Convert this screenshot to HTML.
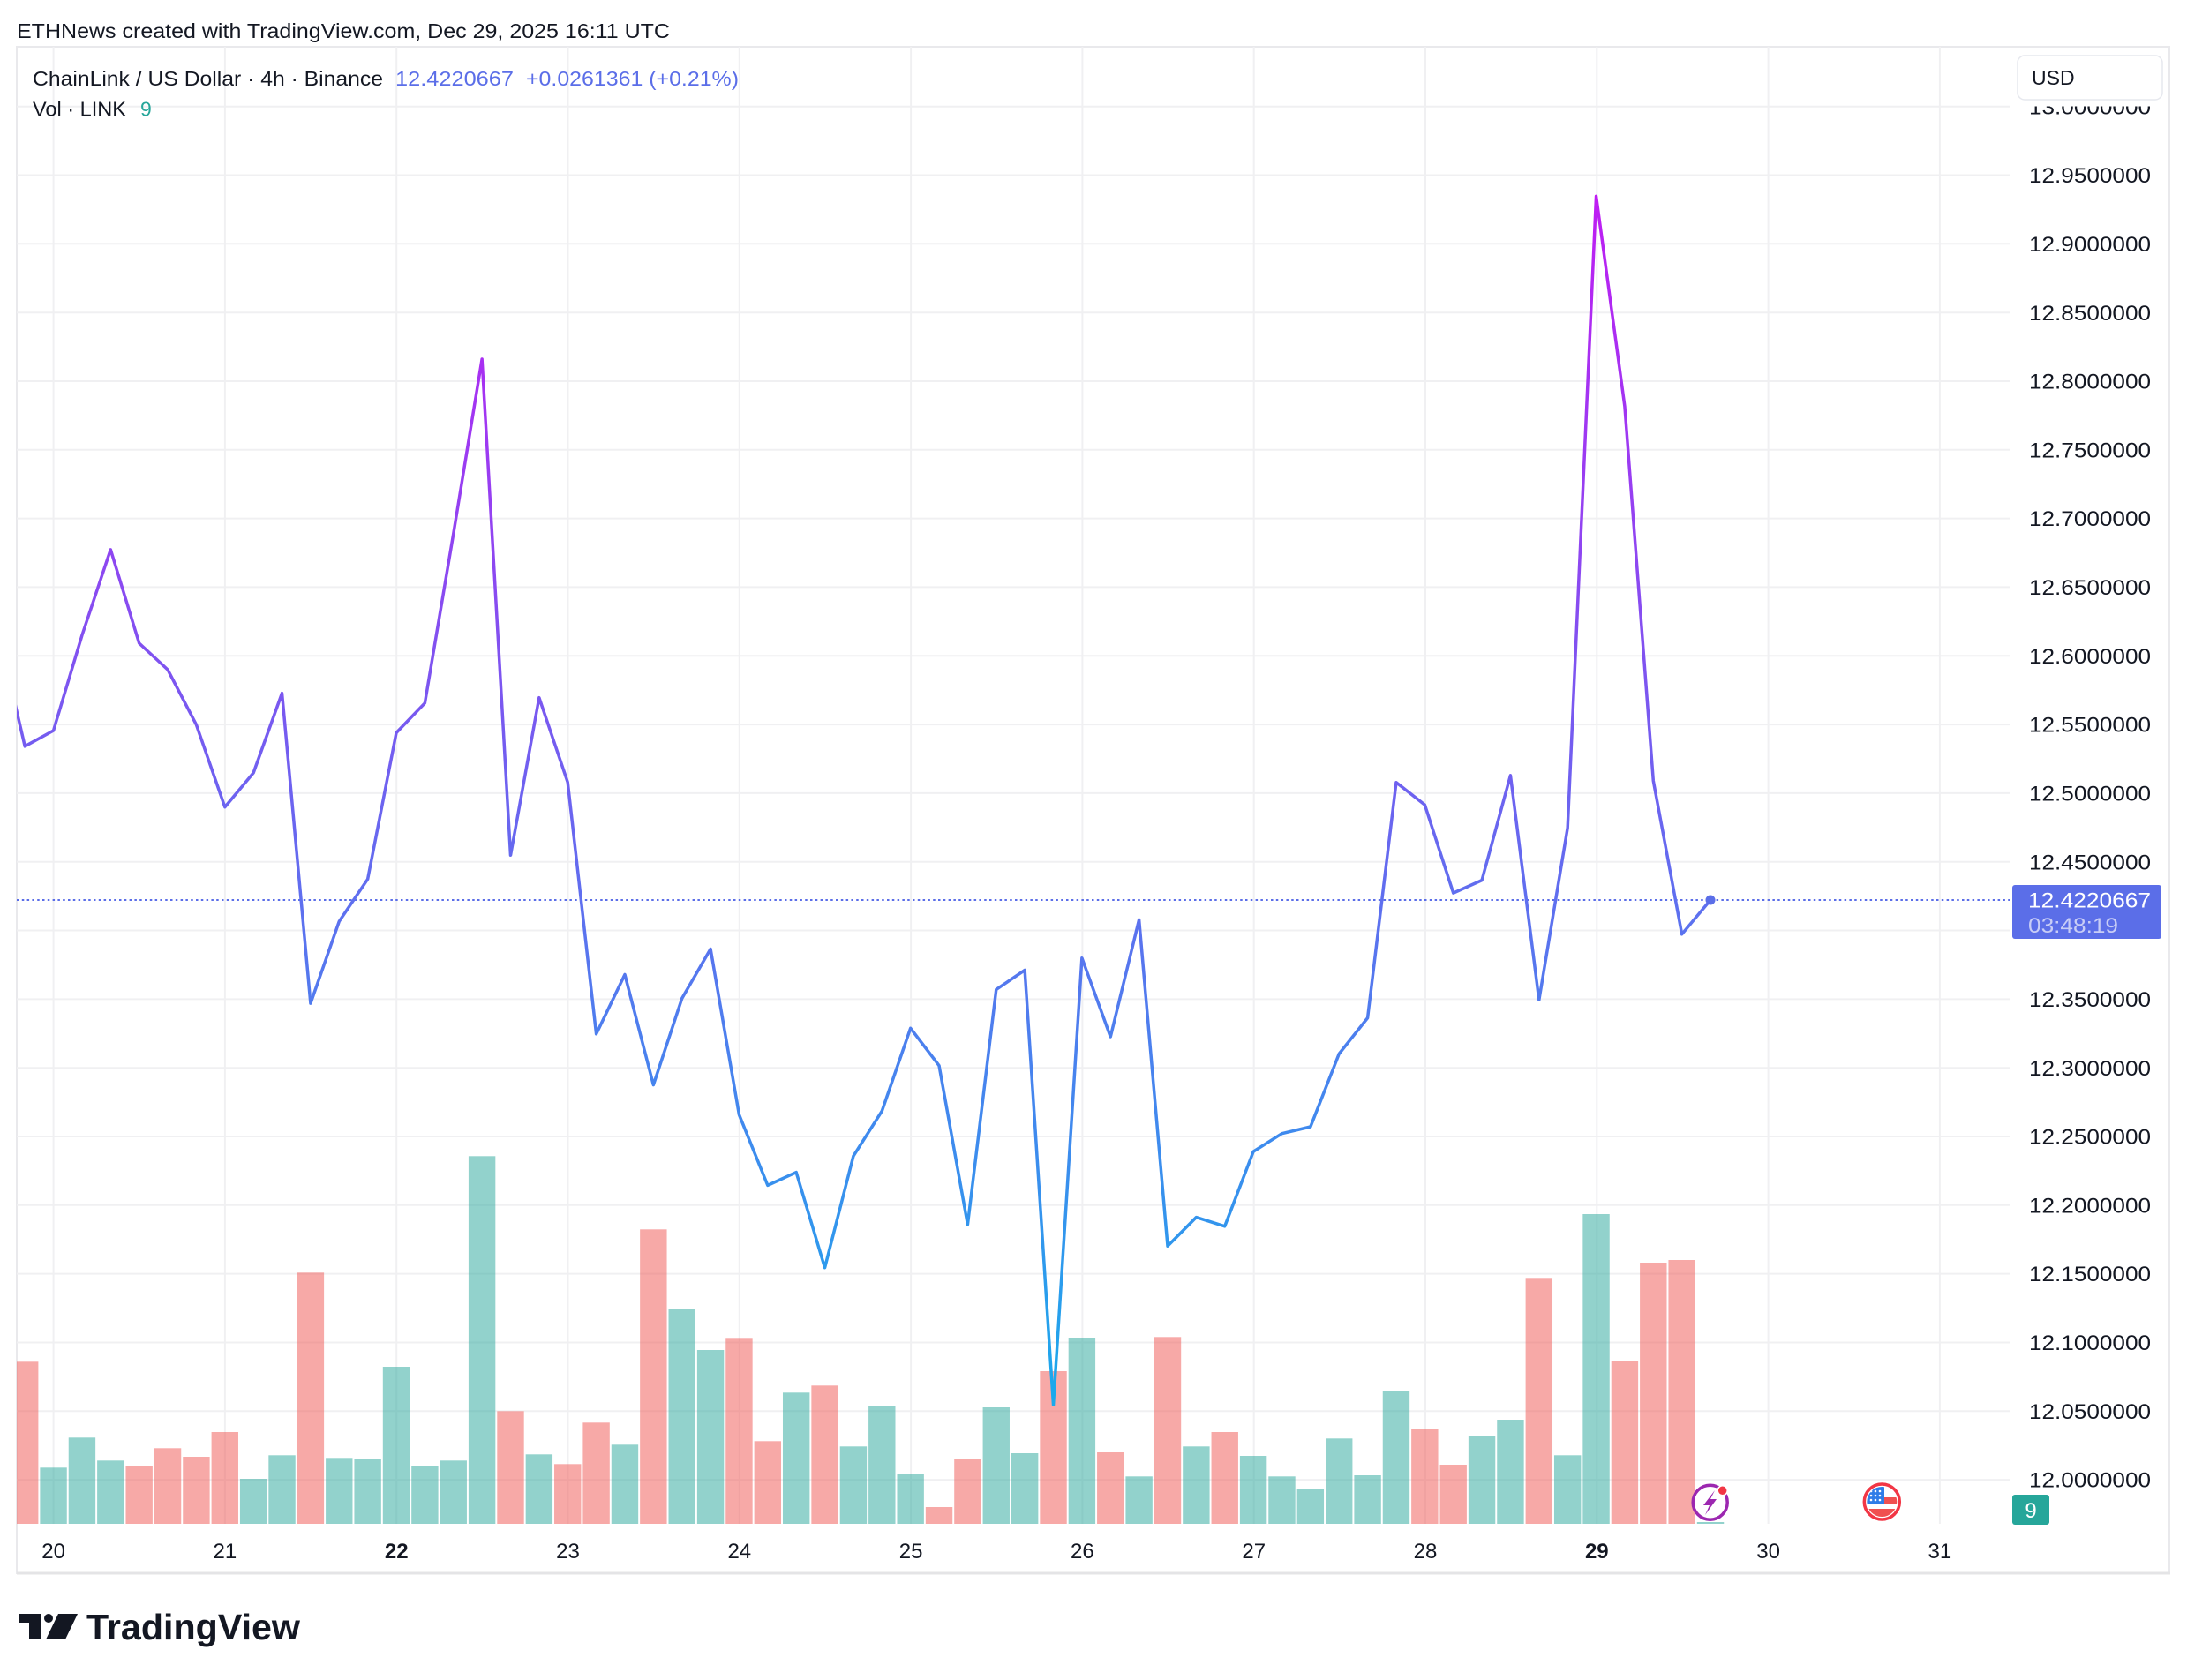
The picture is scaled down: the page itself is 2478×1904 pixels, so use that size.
<!DOCTYPE html>
<html><head><meta charset="utf-8"><style>
html,body{margin:0;padding:0;background:#fff;}
svg{display:block;}
text{font-family:"Liberation Sans",Arial,sans-serif;}
</style></head><body>
<svg width="2478" height="1904" viewBox="0 0 2478 1904" xmlns="http://www.w3.org/2000/svg">
<rect width="2478" height="1904" fill="#fff"/>
<defs>
<clipPath id="plot"><rect x="19" y="53" width="2259" height="1674"/></clipPath>
<linearGradient id="lg" gradientUnits="userSpaceOnUse" x1="0" y1="222" x2="0" y2="1592">
<stop offset="0" stop-color="#bf1cf3"/><stop offset="1" stop-color="#1aaaec"/>
</linearGradient>
<clipPath id="flagc"><circle cx="2132.3" cy="1702" r="17"/></clipPath>
</defs>

<!-- title -->
<text x="19" y="43" font-size="23" fill="#131722" textLength="740" lengthAdjust="spacingAndGlyphs">ETHNews created with TradingView.com, Dec 29, 2025 16:11 UTC</text>

<!-- frame -->
<rect x="19" y="53" width="2439" height="1730" fill="none" stroke="#e9e9ec" stroke-width="2"/>
<line x1="19" y1="1783" x2="2459" y2="1783" stroke="#e4e4e6" stroke-width="3"/>

<!-- grid -->
<g stroke="#f0f0f2" stroke-width="2">
<line x1="19" y1="120.7" x2="2278" y2="120.7"/>
<line x1="19" y1="198.5" x2="2278" y2="198.5"/>
<line x1="19" y1="276.3" x2="2278" y2="276.3"/>
<line x1="19" y1="354.2" x2="2278" y2="354.2"/>
<line x1="19" y1="432.0" x2="2278" y2="432.0"/>
<line x1="19" y1="509.8" x2="2278" y2="509.8"/>
<line x1="19" y1="587.6" x2="2278" y2="587.6"/>
<line x1="19" y1="665.4" x2="2278" y2="665.4"/>
<line x1="19" y1="743.3" x2="2278" y2="743.3"/>
<line x1="19" y1="821.1" x2="2278" y2="821.1"/>
<line x1="19" y1="898.9" x2="2278" y2="898.9"/>
<line x1="19" y1="976.7" x2="2278" y2="976.7"/>
<line x1="19" y1="1054.5" x2="2278" y2="1054.5"/>
<line x1="19" y1="1132.4" x2="2278" y2="1132.4"/>
<line x1="19" y1="1210.2" x2="2278" y2="1210.2"/>
<line x1="19" y1="1288.0" x2="2278" y2="1288.0"/>
<line x1="19" y1="1365.8" x2="2278" y2="1365.8"/>
<line x1="19" y1="1443.6" x2="2278" y2="1443.6"/>
<line x1="19" y1="1521.5" x2="2278" y2="1521.5"/>
<line x1="19" y1="1599.3" x2="2278" y2="1599.3"/>
<line x1="19" y1="1677.1" x2="2278" y2="1677.1"/>
<line x1="60.6" y1="53" x2="60.6" y2="1727"/>
<line x1="254.9" y1="53" x2="254.9" y2="1727"/>
<line x1="449.2" y1="53" x2="449.2" y2="1727"/>
<line x1="643.5" y1="53" x2="643.5" y2="1727"/>
<line x1="837.8" y1="53" x2="837.8" y2="1727"/>
<line x1="1032.1" y1="53" x2="1032.1" y2="1727"/>
<line x1="1226.4" y1="53" x2="1226.4" y2="1727"/>
<line x1="1420.7" y1="53" x2="1420.7" y2="1727"/>
<line x1="1615" y1="53" x2="1615" y2="1727"/>
<line x1="1809.3" y1="53" x2="1809.3" y2="1727"/>
<line x1="2003.6" y1="53" x2="2003.6" y2="1727"/>
<line x1="2197.9" y1="53" x2="2197.9" y2="1727"/>
</g>

<g clip-path="url(#plot)">
<!-- volume red -->
<g fill="rgba(239,83,80,0.5)">
<rect x="13" y="1543.3" width="30.4" height="183.7"/>
<rect x="142.48" y="1662" width="30.4" height="65"/>
<rect x="174.85" y="1641.3" width="30.4" height="85.7"/>
<rect x="207.22" y="1651" width="30.4" height="76"/>
<rect x="239.59" y="1623" width="30.4" height="104"/>
<rect x="336.7" y="1442.3" width="30.4" height="284.7"/>
<rect x="563.29" y="1599.3" width="30.4" height="127.7"/>
<rect x="628.03" y="1659.3" width="30.4" height="67.7"/>
<rect x="660.4" y="1612.3" width="30.4" height="114.7"/>
<rect x="725.14" y="1393.3" width="30.4" height="333.7"/>
<rect x="822.25" y="1516.3" width="30.4" height="210.7"/>
<rect x="854.62" y="1633.3" width="30.4" height="93.7"/>
<rect x="919.36" y="1570.3" width="30.4" height="156.7"/>
<rect x="1048.84" y="1708" width="30.4" height="19"/>
<rect x="1081.21" y="1653.3" width="30.4" height="73.7"/>
<rect x="1178.32" y="1554" width="30.4" height="173"/>
<rect x="1243.06" y="1646" width="30.4" height="81"/>
<rect x="1307.8" y="1515.3" width="30.4" height="211.7"/>
<rect x="1372.54" y="1623" width="30.4" height="104"/>
<rect x="1599.13" y="1620" width="30.4" height="107"/>
<rect x="1631.5" y="1660" width="30.4" height="67"/>
<rect x="1728.61" y="1448.3" width="30.4" height="278.7"/>
<rect x="1825.72" y="1542.3" width="30.4" height="184.7"/>
<rect x="1858.09" y="1431" width="30.4" height="296"/>
<rect x="1890.46" y="1428" width="30.4" height="299"/>
</g>
<!-- volume green -->
<g fill="rgba(38,166,154,0.5)">
<rect x="45.37" y="1663.3" width="30.4" height="63.7"/>
<rect x="77.74" y="1629.3" width="30.4" height="97.7"/>
<rect x="110.11" y="1655.3" width="30.4" height="71.7"/>
<rect x="271.96" y="1676" width="30.4" height="51"/>
<rect x="304.33" y="1649.3" width="30.4" height="77.7"/>
<rect x="369.07" y="1652.3" width="30.4" height="74.7"/>
<rect x="401.44" y="1653.3" width="30.4" height="73.7"/>
<rect x="433.81" y="1549" width="30.4" height="178"/>
<rect x="466.18" y="1662" width="30.4" height="65"/>
<rect x="498.55" y="1655.3" width="30.4" height="71.7"/>
<rect x="530.92" y="1310.3" width="30.4" height="416.7"/>
<rect x="595.66" y="1648.3" width="30.4" height="78.7"/>
<rect x="692.77" y="1637.3" width="30.4" height="89.7"/>
<rect x="757.51" y="1483.3" width="30.4" height="243.7"/>
<rect x="789.88" y="1530" width="30.4" height="197"/>
<rect x="886.99" y="1578.3" width="30.4" height="148.7"/>
<rect x="951.73" y="1639.3" width="30.4" height="87.7"/>
<rect x="984.1" y="1593.3" width="30.4" height="133.7"/>
<rect x="1016.47" y="1670" width="30.4" height="57"/>
<rect x="1113.58" y="1595" width="30.4" height="132"/>
<rect x="1145.95" y="1647" width="30.4" height="80"/>
<rect x="1210.69" y="1516" width="30.4" height="211"/>
<rect x="1275.43" y="1673.3" width="30.4" height="53.7"/>
<rect x="1340.17" y="1639.3" width="30.4" height="87.7"/>
<rect x="1404.91" y="1650" width="30.4" height="77"/>
<rect x="1437.28" y="1673.3" width="30.4" height="53.7"/>
<rect x="1469.65" y="1687.3" width="30.4" height="39.7"/>
<rect x="1502.02" y="1630.3" width="30.4" height="96.7"/>
<rect x="1534.39" y="1672" width="30.4" height="55"/>
<rect x="1566.76" y="1576" width="30.4" height="151"/>
<rect x="1663.87" y="1627.3" width="30.4" height="99.7"/>
<rect x="1696.24" y="1609" width="30.4" height="118"/>
<rect x="1760.98" y="1649.3" width="30.4" height="77.7"/>
<rect x="1793.35" y="1376" width="30.4" height="351"/>
<rect x="1922.83" y="1725" width="30.4" height="2"/>
</g>

<!-- last price dotted line -->
<line x1="19" y1="1020" x2="2278" y2="1020" stroke="#5b6ee8" stroke-width="2" stroke-dasharray="2.5 3.3"/>

<!-- price line -->
<polyline fill="none" stroke="url(#lg)" stroke-width="3.5" stroke-linejoin="round" stroke-linecap="round" points="-4.2,706 28.2,845.8 60.57,828 92.94,720 125.31,622.9 157.68,729 190.05,759 222.42,821.3 254.79,914.7 287.16,875.9 319.53,785.6 351.9,1137.1 384.27,1044.3 416.64,996.3 449.01,830.5 481.38,796.8 513.75,605 546.12,407 578.49,969.3 610.86,790.7 643.23,886.6 675.6,1171.8 707.97,1104.5 740.34,1229.6 772.71,1131.5 805.08,1075.5 837.45,1263.3 869.82,1343.4 902.19,1328.6 934.56,1436.7 966.93,1310.2 999.3,1259.2 1031.67,1165.3 1064.04,1207.7 1096.41,1387.8 1128.78,1121.4 1161.15,1099.5 1193.52,1592.3 1225.89,1085.7 1258.26,1175 1290.63,1042.3 1323,1412.2 1355.37,1379.6 1387.74,1389.8 1420.11,1305.1 1452.48,1284.7 1484.85,1277 1517.22,1194.4 1549.59,1153.6 1581.96,886.7 1614.33,912.1 1646.7,1012.1 1679.07,997.6 1711.44,878.8 1743.81,1133.3 1776.18,938.2 1808.55,222.4 1840.92,460.6 1873.29,884.8 1905.66,1058.8 1938.03,1020"/>
<circle cx="1938" cy="1020" r="5.5" fill="#5b6ee8"/>
</g>

<!-- legend -->
<text x="37" y="97" font-size="23" fill="#131722" textLength="397" lengthAdjust="spacingAndGlyphs">ChainLink / US Dollar · 4h · Binance</text>
<text x="448" y="97" font-size="23" fill="#5b6ee8" textLength="134" lengthAdjust="spacingAndGlyphs">12.4220667</text>
<text x="596" y="97" font-size="23" fill="#5b6ee8" textLength="241" lengthAdjust="spacingAndGlyphs">+0.0261361 (+0.21%)</text>
<text x="37" y="131.5" font-size="23" fill="#131722" textLength="106" lengthAdjust="spacingAndGlyphs">Vol · LINK</text>
<text x="159" y="131.5" font-size="23" fill="#26a69a">9</text>

<!-- price axis labels -->
<g font-size="24" fill="#131722">
<text x="2299" y="129.3" textLength="138" lengthAdjust="spacingAndGlyphs">13.0000000</text>
<text x="2299" y="207.1" textLength="138" lengthAdjust="spacingAndGlyphs">12.9500000</text>
<text x="2299" y="284.9" textLength="138" lengthAdjust="spacingAndGlyphs">12.9000000</text>
<text x="2299" y="362.8" textLength="138" lengthAdjust="spacingAndGlyphs">12.8500000</text>
<text x="2299" y="440.6" textLength="138" lengthAdjust="spacingAndGlyphs">12.8000000</text>
<text x="2299" y="518.4" textLength="138" lengthAdjust="spacingAndGlyphs">12.7500000</text>
<text x="2299" y="596.2" textLength="138" lengthAdjust="spacingAndGlyphs">12.7000000</text>
<text x="2299" y="674.0" textLength="138" lengthAdjust="spacingAndGlyphs">12.6500000</text>
<text x="2299" y="751.9" textLength="138" lengthAdjust="spacingAndGlyphs">12.6000000</text>
<text x="2299" y="829.7" textLength="138" lengthAdjust="spacingAndGlyphs">12.5500000</text>
<text x="2299" y="907.5" textLength="138" lengthAdjust="spacingAndGlyphs">12.5000000</text>
<text x="2299" y="985.3" textLength="138" lengthAdjust="spacingAndGlyphs">12.4500000</text>
<text x="2299" y="1141.0" textLength="138" lengthAdjust="spacingAndGlyphs">12.3500000</text>
<text x="2299" y="1218.8" textLength="138" lengthAdjust="spacingAndGlyphs">12.3000000</text>
<text x="2299" y="1296.6" textLength="138" lengthAdjust="spacingAndGlyphs">12.2500000</text>
<text x="2299" y="1374.4" textLength="138" lengthAdjust="spacingAndGlyphs">12.2000000</text>
<text x="2299" y="1452.2" textLength="138" lengthAdjust="spacingAndGlyphs">12.1500000</text>
<text x="2299" y="1530.1" textLength="138" lengthAdjust="spacingAndGlyphs">12.1000000</text>
<text x="2299" y="1607.9" textLength="138" lengthAdjust="spacingAndGlyphs">12.0500000</text>
<text x="2299" y="1685.7" textLength="138" lengthAdjust="spacingAndGlyphs">12.0000000</text>
</g>

<!-- mask clipping top label -->
<rect x="2280" y="55" width="176" height="65.5" fill="#fff"/>

<!-- USD box -->
<rect x="2286" y="63" width="164" height="50" rx="8" fill="#fff" stroke="#e6e8ee" stroke-width="1.5"/>
<text x="2302" y="96" font-size="23" fill="#131722">USD</text>

<!-- last price label -->
<rect x="2280" y="1003" width="169" height="61" rx="3" fill="#5b6ee8"/>
<text x="2298" y="1028.5" font-size="24" fill="#ffffff" textLength="139" lengthAdjust="spacingAndGlyphs">12.4220667</text>
<text x="2298" y="1057" font-size="24" fill="#c8cdf6" textLength="102" lengthAdjust="spacingAndGlyphs">03:48:19</text>

<!-- time axis -->
<g font-size="24" fill="#131722" text-anchor="middle">
<text x="60.6" y="1766">20</text>
<text x="254.9" y="1766">21</text>
<text x="449.2" y="1766" font-weight="bold">22</text>
<text x="643.5" y="1766">23</text>
<text x="837.8" y="1766">24</text>
<text x="1032.1" y="1766">25</text>
<text x="1226.4" y="1766">26</text>
<text x="1420.7" y="1766">27</text>
<text x="1615" y="1766">28</text>
<text x="1809.3" y="1766" font-weight="bold">29</text>
<text x="2003.6" y="1766">30</text>
<text x="2197.9" y="1766">31</text>
</g>

<!-- lightning icon -->
<circle cx="1937.7" cy="1702.7" r="19.5" fill="#fff" stroke="#9c27b0" stroke-width="3.5"/>
<polygon points="1943,1689 1930,1706 1937,1706 1932,1717 1945,1699 1938,1699" fill="#9c27b0"/>
<circle cx="1951.7" cy="1689.3" r="5.5" fill="#f23645" stroke="#fff" stroke-width="1.5"/>

<!-- US flag icon -->
<circle cx="2132.3" cy="1702" r="20" fill="#fff" stroke="#f23645" stroke-width="3.5"/>
<g clip-path="url(#flagc)">
<rect x="2114" y="1684" width="37" height="36" fill="#fff"/>
<rect x="2135" y="1697" width="16" height="8" fill="#f05050"/>
<rect x="2114" y="1710" width="37" height="10" fill="#f05050"/>
<rect x="2114" y="1684" width="21" height="21" fill="#2f7de8"/>
<g fill="#fff">
<circle cx="2120" cy="1690" r="1.3"/><circle cx="2125" cy="1690" r="1.3"/><circle cx="2130" cy="1690" r="1.3"/>
<circle cx="2120" cy="1695" r="1.3"/><circle cx="2125" cy="1695" r="1.3"/><circle cx="2130" cy="1695" r="1.3"/>
<circle cx="2120" cy="1700" r="1.3"/><circle cx="2125" cy="1700" r="1.3"/><circle cx="2130" cy="1700" r="1.3"/>
</g>
</g>

<!-- volume badge -->
<rect x="2280" y="1694" width="42" height="34" rx="3" fill="#26a69a"/>
<text x="2301" y="1720" font-size="24" fill="#fff" text-anchor="middle">9</text>

<!-- TradingView logo -->
<g fill="#131722">
<rect x="22" y="1829" width="24" height="10"/>
<rect x="33" y="1829" width="13" height="29"/>
<circle cx="55" cy="1834" r="5"/>
<polygon points="66,1829 88,1829 74,1858 52,1858"/>
</g>
<text x="98" y="1858" font-size="41" font-weight="bold" fill="#131722" textLength="242" lengthAdjust="spacingAndGlyphs">TradingView</text>
</svg>
</body></html>
